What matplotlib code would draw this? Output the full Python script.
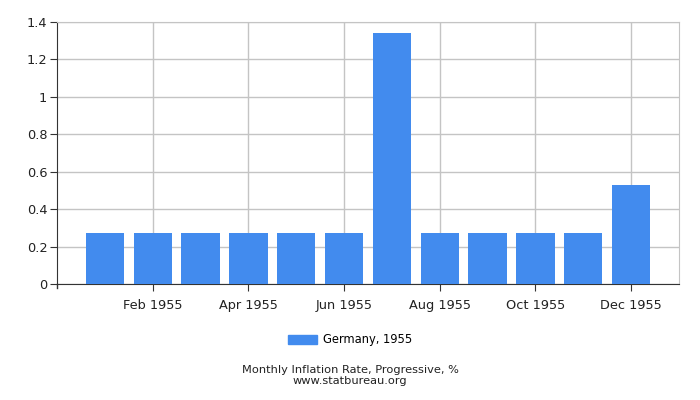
import matplotlib
matplotlib.use("Agg")
import matplotlib.pyplot as plt
from matplotlib.patches import Patch

months = ["Jan 1955", "Feb 1955", "Mar 1955", "Apr 1955", "May 1955", "Jun 1955",
          "Jul 1955", "Aug 1955", "Sep 1955", "Oct 1955", "Nov 1955", "Dec 1955"]
values = [0.27, 0.27, 0.27, 0.27, 0.27, 0.27, 1.34, 0.27, 0.27, 0.27, 0.27, 0.53]
yticks = [0, 0.2, 0.4, 0.6, 0.8, 1.0, 1.2, 1.4]
ytick_labels = ["0", "0.2", "0.4", "0.6", "0.8", "1", "1.2", "1.4"]
series_label = "Germany, 1955"
title = "Monthly Inflation Rate, Progressive, %"
source = "www.statbureau.org"

color = "#428bee"
grid_c = "#c4c4c4"

fig = plt.figure(figsize=(7, 4), dpi=100)
ax = fig.add_axes([57/700, 1-284/400, (679-57)/700, (284-22)/400])
x = list(range(len(months)))
ax.bar(x, values, width=0.8, color=color, zorder=3)
ax.set_xlim(-1, 12)
ax.set_ylim(0, 1.4)
ax.set_yticks(yticks)
ax.set_yticklabels(ytick_labels, fontsize=9.3)
tick_pos = x[1::2]
ax.set_xticks(tick_pos)
ax.set_xticklabels([months[i] for i in tick_pos], fontsize=9.3)
ax.grid(True, color=grid_c, linewidth=1, zorder=0)
for s in ["top", "right"]:
    ax.spines[s].set_color(grid_c)
for s in ["left", "bottom"]:
    ax.spines[s].set_color("#333333")
ax.tick_params(axis="both", length=5, color="#333333", colors="#222222")
ax.tick_params(axis="x", pad=6)
ax.tick_params(axis="y", pad=2)
ax.plot([-1, -1], [0, -0.02], color="#333333", lw=1, clip_on=False, transform=ax.transData)

fig.legend(handles=[Patch(color=color, label=series_label)], loc="center",
           bbox_to_anchor=(0.5, 1-340/400), frameon=False, fontsize=8.3,
           handlelength=2.6, handleheight=0.9, handletextpad=0.5)
fig.text(0.5, 1-370/400, title, ha="center", va="center", fontsize=8.2, color="#222222")
fig.text(0.5, 1-381.5/400, source, ha="center", va="center", fontsize=8.2, color="#222222")
fig.savefig("out.png", dpi=100)
